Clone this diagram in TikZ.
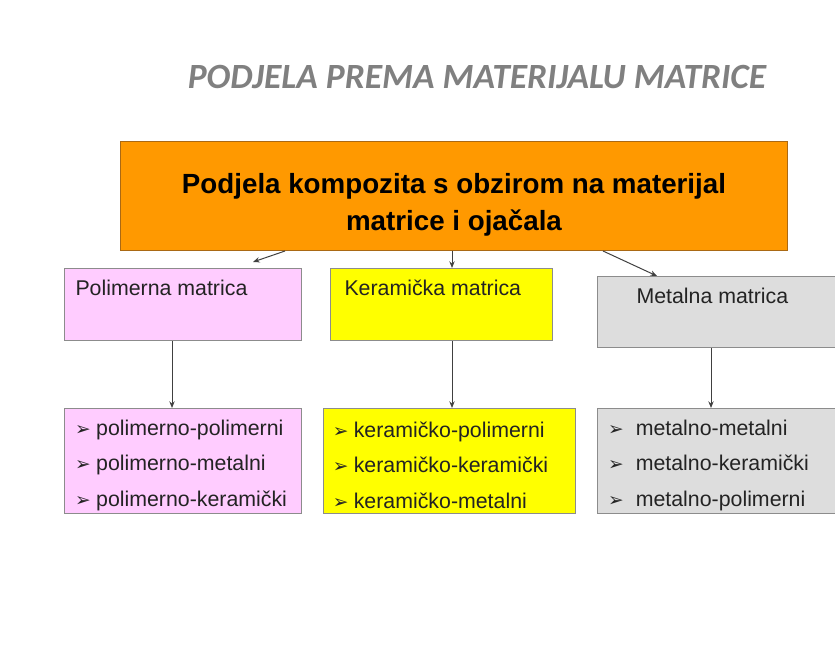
\documentclass[tikz,border=0pt]{standalone}
\usepackage{fontspec}
\setmainfont{Liberation Sans}
\newfontfamily\ttlfont{Carlito}
\newfontfamily\symfont{DejaVu Sans}
\usetikzlibrary{calc,arrows.meta}

\definecolor{orng}{RGB}{255,153,0}
\definecolor{pnk}{RGB}{255,204,255}
\definecolor{ylw}{RGB}{255,255,0}
\definecolor{gry}{RGB}{221,221,221}
\definecolor{edge}{RGB}{140,140,140}
\definecolor{lbl}{RGB}{35,35,35}

\newcommand{\blt}{{\symfont\fontsize{14}{14}\selectfont\char"27A2}\hspace{4pt}}
\newcommand{\bltw}{{\symfont\fontsize{14}{14}\selectfont\char"27A2}\hspace{9pt}}

\tikzset{every picture/.style={line width=0.75pt}}
\tikzset{
  box/.style={draw=edge, inner sep=0pt, anchor=north west},
  lst/.style={box, align=left, inner xsep=7pt, inner ysep=0pt, text=lbl,
    minimum height=78.75pt,
    font=\fontsize{16}{26.5}\selectfont},
  lbltxt/.style={anchor=base west, inner sep=0pt, text=lbl,
    font=\fontsize{16}{19}\selectfont},
  arr/.style={draw={rgb,255:red,64;green,64;blue,64}, -{Stealth[length=5pt,width=4pt]}}
}

\begin{document}
\begin{tikzpicture}[x=0.75pt,y=0.75pt,yscale=-1,xscale=1]
\useasboundingbox (0,0) rectangle (835,670);

%Title
\node[text={rgb,255:red,128;green,128;blue,128}, font=\ttlfont\fontsize{26.6}{30}\selectfont\bfseries\itshape] (ttl) at (477,77) {PODJELA PREMA MATERIJALU MATRICE};

%Shape: Rectangle (main)
\node[box, fill=orng, draw={rgb,255:red,170;green,105;blue,20}, minimum width=500.25pt, minimum height=81.75pt] (main) at (120,141) {};
\node[align=center, inner sep=0pt, font=\fontsize{20.8}{27.75}\selectfont\bfseries] (maintxt) at (454,205)
  {Podjela kompozita s obzirom na materijal\\matrice i ojačala};

%Shape: Rectangle (upper row)
\node[box, fill=pnk, minimum width=177.75pt, minimum height=54pt] (ptop) at (64,268) {};
\node[box, fill=ylw, minimum width=166.5pt, minimum height=54pt] (ktop) at (330,268) {};
\node[box, fill=gry, minimum width=186pt, minimum height=53.25pt] (mtop) at (597,276) {};
\node[lbltxt] (plbl) at ($(ptop.north west)+(11,28)$) {Polimerna matrica};
\node[lbltxt] (klbl) at ($(ktop.north west)+(14,28)$) {Keramička matrica};
\node[lbltxt] (mlbl) at ($(mtop.north west)+(39,27)$) {Metalna matrica};

%Shape: Rectangle (lower row)
\node[lst, fill=pnk, minimum width=177.75pt, text width=163.75pt] (plist) at (64,408)
  {\rule{0pt}{18pt}\hspace{1pt}\blt polimerno-polimerni\\\hspace{1pt}\blt polimerno-metalni\\\hspace{1pt}\blt polimerno-keramički};
\node[lst, fill=ylw, minimum width=189pt, text width=175pt] (klist) at (323,408)
  {\rule{0pt}{18pt}\blt keramičko-polimerni\\\blt keramičko-keramički\\\blt keramičko-metalni};
\node[lst, fill=gry, minimum width=186pt, text width=172pt] (mlist) at (597,408)
  {\rule{0pt}{18pt}\hspace{1pt}\bltw metalno-metalni\\\hspace{1pt}\bltw metalno-keramički\\\hspace{1pt}\bltw metalno-polimerni};

%Straight Lines
\coordinate (pin) at ($(ptop.north west)+(189,-6)$);
\draw[arr] ($(main.south west)+(165,0)$) -- (pin);
%Straight Lines
\draw[arr] ($(main.south west)+(332,0)$) -- ($(ktop.north west)+(122,0)$);
%Straight Lines
\draw[arr] ($(main.south west)+(483,0)$) -- ($(mtop.north west)+(60,0)$);
%Straight Lines
\draw[arr] ($(ptop.south west)+(108,0)$) -- ($(plist.north west)+(108,0)$);
%Straight Lines
\draw[arr] ($(ktop.south west)+(122,0)$) -- ($(klist.north west)+(129,0)$);
%Straight Lines
\draw[arr] ($(mtop.south west)+(114,0)$) -- ($(mlist.north west)+(114,0)$);

\end{tikzpicture}
\end{document}
